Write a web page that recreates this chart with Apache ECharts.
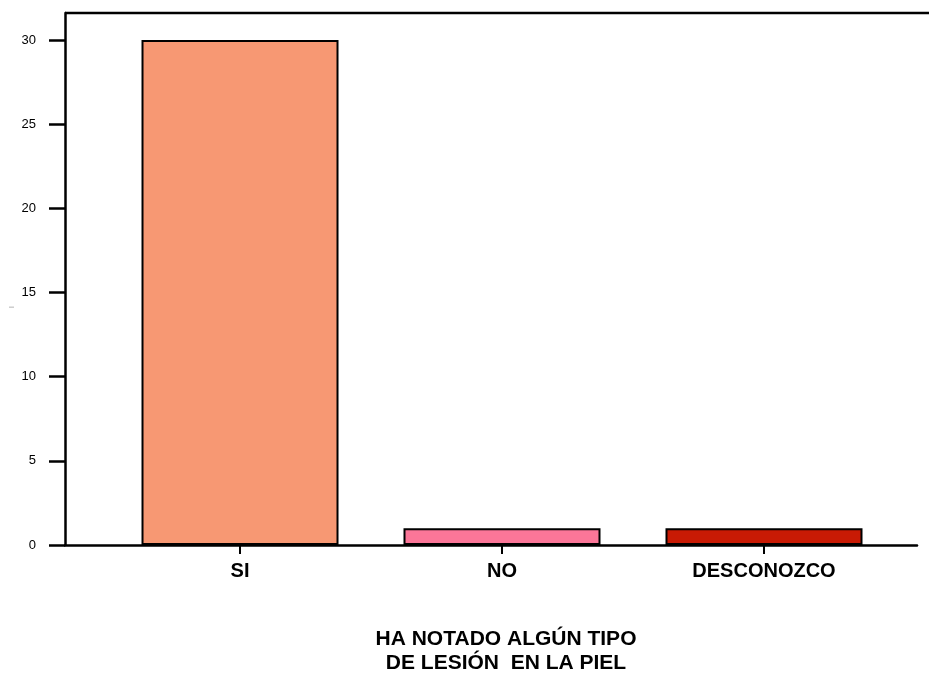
<!DOCTYPE html>
<html>
<head>
<meta charset="utf-8">
<script src="https://cdn.jsdelivr.net/npm/echarts@6/dist/echarts.min.js"></script>
<style>
  html, body { margin: 0; padding: 0; background: #fff; }
  #chart { width: 929px; height: 673px; }
</style>
</head>
<body>
<div id="chart"></div>
<script>
// data
const categories = ['SI', 'NO', 'DESCONOZCO'];
const counts = [30, 1, 1];
const yTicks = [0, 5, 10, 15, 20, 25, 30];

// bar fill colours, one per category
const barColors = ['#f79873', '#fb7698', '#c81a04'];

const chart = echarts.init(document.getElementById('chart'));

const positions = categories.map((c, i) => i + 1);

const option = {
  animation: false,
  title: {
    text: 'HA NOTADO ALGÚN TIPO\nDE LESIÓN  EN LA PIEL',
    left: 501,
    top: 622,
    textAlign: 'center',
    textStyle: {
      fontFamily: 'Liberation Sans, Arial',
      fontWeight: 'bold',
      fontSize: 21,
      lineHeight: 24,
      color: '#000'
    }
  },
  grid: {
    left: 65,
    right: 12,
    top: 13,
    bottom: 128,
    outerBoundsMode: 'none'
  },
  graphic: [
    // top frame line runs past the plot to the page edge
    {
      type: 'line',
      shape: { x1: 65, y1: 13, x2: 929, y2: 13 },
      style: { stroke: '#000', lineWidth: 2.5 }
    },
    // faint y axis title
    {
      type: 'text',
      x: 12,
      y: 307,
      rotation: Math.PI / 2,
      style: {
        text: 'l',
        fontSize: 8,
        fill: '#999',
        align: 'center',
        verticalAlign: 'middle'
      }
    }
  ],
  xAxis: {
    type: 'value',
    min: 0.332,
    max: 3.584,
    axisLine: { show: true, lineStyle: { color: '#000', width: 2.5 } },
    axisTick: {
      show: true,
      customValues: positions,
      length: 9,
      lineStyle: { color: '#000', width: 2 }
    },
    axisLabel: {
      customValues: positions,
      formatter: (v) => categories[Math.round(v) - 1] || '',
      fontFamily: 'Liberation Sans, Arial',
      fontWeight: 'bold',
      fontSize: 20,
      color: '#000',
      margin: 16
    },
    splitLine: { show: false }
  },
  yAxis: {
    type: 'value',
    min: 0,
    max: 31.6,
    axisLine: { show: true, lineStyle: { color: '#000', width: 2.5 } },
    axisTick: {
      show: true,
      customValues: yTicks,
      length: 16,
      lineStyle: { color: '#000', width: 2.5 }
    },
    axisLabel: {
      customValues: yTicks,
      fontFamily: 'Liberation Sans, Arial',
      fontSize: 13,
      color: '#000',
      margin: 29
    },
    splitLine: { show: false }
  },
  series: [{
    type: 'bar',
    barWidth: 197,
    data: counts.map((v, i) => ({
      value: [positions[i], v],
      itemStyle: { color: barColors[i] }
    })),
    itemStyle: {
      borderColor: '#000',
      borderWidth: 2
    }
  }]
};

chart.setOption(option);
</script>
</body>
</html>
